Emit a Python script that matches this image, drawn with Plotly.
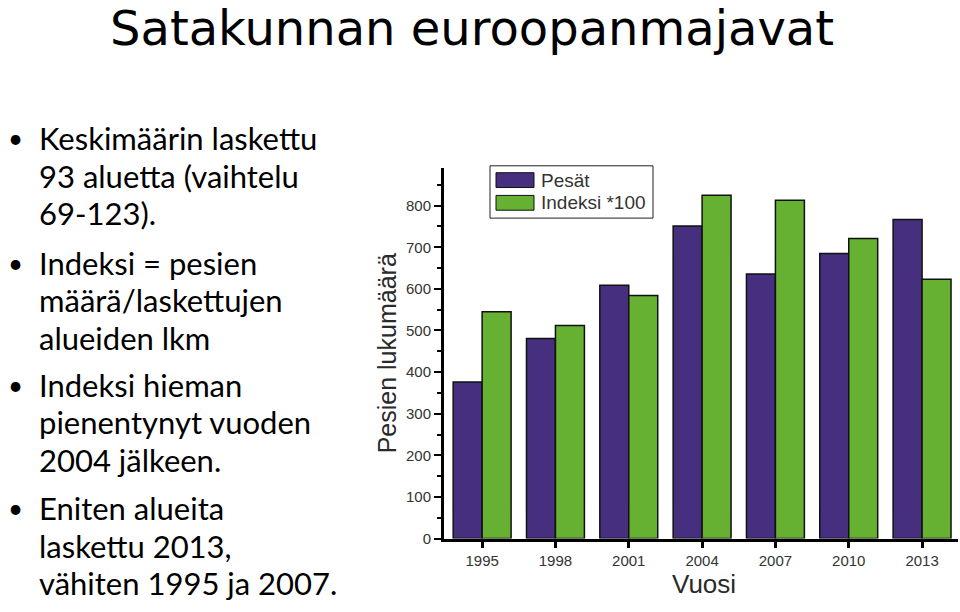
import plotly.graph_objects as go

years = ["1995", "1998", "2001", "2004", "2007", "2010", "2013"]
pesat = [376, 481, 609, 751, 636, 685, 767]
indeksi100 = [545, 512, 584, 825, 813, 721, 623]
series_names = ["Pesät", "Indeksi *100"]
series_colors = ["#472F80", "#66B132"]

title_text = "Satakunnan euroopanmajavat"
bullets = [
    ["Keskimäärin laskettu", "93 aluetta (vaihtelu", "69-123)."],
    ["Indeksi = pesien", "määrä/laskettujen", "alueiden lkm"],
    ["Indeksi hieman", "pienentynyt vuoden", "2004 jälkeen."],
    ["Eniten alueita", "laskettu 2013,", "vähiten 1995 ja 2007."],
]
y_title = "Pesien lukumäärä"
x_title = "Vuosi"

W, H = 960, 612


def px(x):
    return x / W


def py(y):
    return 1 - y / H


fig = go.Figure()
for name, vals, col in zip(series_names, [pesat, indeksi100], series_colors):
    fig.add_trace(go.Bar(
        x=years, y=vals, name=name, showlegend=False,
        marker=dict(color=col, line=dict(color="#111111", width=1.5)),
    ))

annotations = []
shapes = []

# Title
annotations.append(dict(
    x=px(472), y=py(28), xref="paper", yref="paper", text=title_text,
    showarrow=False, xanchor="center", yanchor="middle",
    font=dict(family="DejaVu Sans", size=48, color="#000000"),
))

# Bullets
line_y = [
    [140, 178, 216],
    [266, 304, 342],
    [390, 428, 466],
    [515, 553, 591],
]
for para, ys in zip(bullets, line_y):
    annotations.append(dict(
        x=px(6), y=py(ys[0]), xref="paper", yref="paper", text="•",
        showarrow=False, xanchor="left", yanchor="middle",
        font=dict(family="Lato", size=26, color="#000000"),
    ))
    for line, yy in zip(para, ys):
        annotations.append(dict(
            x=px(37), y=py(yy), xref="paper", yref="paper", text=line,
            showarrow=False, xanchor="left", yanchor="middle",
            font=dict(family="Lato", size=31, color="#000000"),
        ))

# Axis titles
annotations.append(dict(
    x=px(387), y=py(358), xref="paper", yref="paper", text=y_title,
    showarrow=False, textangle=-90, xanchor="center", yanchor="middle",
    font=dict(family="Liberation Sans", size=25, color="#2a2a2a"),
))
annotations.append(dict(
    x=px(704), y=py(592), xref="paper", yref="paper", text=x_title,
    showarrow=False, xanchor="center", yanchor="middle",
    font=dict(family="Liberation Sans", size=26, color="#2a2a2a"),
))

# Custom legend
shapes.append(dict(type="rect", xref="paper", yref="paper",
                   x0=px(490), x1=px(653), y0=py(221), y1=py(168),
                   line=dict(color="#222222", width=1), fillcolor="white"))
leg_rows = [(175, 190, 183), (198, 213, 205)]
for (y0, y1, yc), name, col in zip(leg_rows, series_names, series_colors):
    shapes.append(dict(type="rect", xref="paper", yref="paper",
                       x0=px(496), x1=px(534), y0=py(y1), y1=py(y0),
                       line=dict(color="#111111", width=1), fillcolor=col))
    annotations.append(dict(
        x=px(539), y=py(yc), xref="paper", yref="paper", text=name,
        showarrow=False, xanchor="left", yanchor="middle",
        font=dict(family="Liberation Sans", size=19, color="#333333"),
    ))

fig.update_layout(
    width=W, height=H,
    margin=dict(l=0, r=0, t=0, b=0),
    paper_bgcolor="white", plot_bgcolor="white",
    barmode="group", bargap=0.21, bargroupgap=0,
    showlegend=False,
    annotations=annotations, shapes=shapes,
    xaxis=dict(
        domain=[px(444), px(958)], type="category",
        range=[-0.52, 6.49],
        showline=True, linecolor="#000000", linewidth=3,
        ticks="outside", ticklen=6, tickwidth=3, tickcolor="#000000",
        showgrid=False, zeroline=False,
        tickfont=dict(family="Liberation Sans", size=15, color="#333333"),
    ),
    yaxis=dict(
        domain=[py(545.7), py(170)],
        range=[0, 891],
        tickmode="linear", tick0=0, dtick=100,
        showline=True, linecolor="#000000", linewidth=3,
        ticks="outside", ticklen=7, tickwidth=2, tickcolor="#000000",
        minor=dict(dtick=50, ticks="outside", ticklen=4, tickwidth=2, tickcolor="#000000"),
        showgrid=False, zeroline=False,
        tickfont=dict(family="Liberation Sans", size=15, color="#333333"),
    ),
)

fig.write_html("out.html")
